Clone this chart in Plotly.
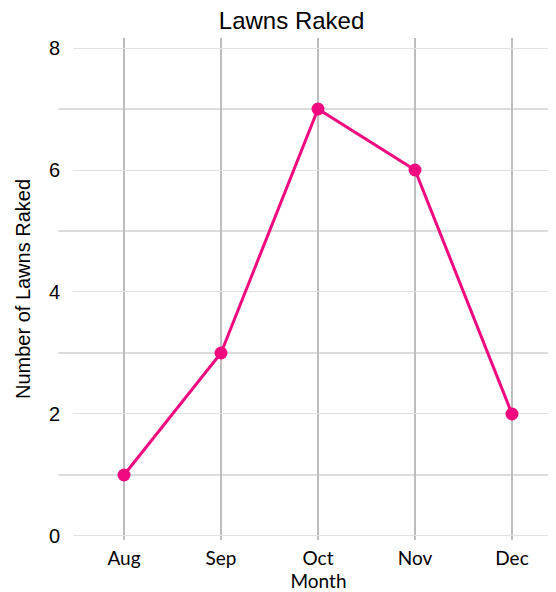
import plotly.graph_objects as go

months = ["Aug", "Sep", "Oct", "Nov", "Dec"]
lawns = [1, 3, 7, 6, 2]
y_ticks = [0, 2, 4, 6, 8]
y_minor_lines = [1, 3, 5, 7]

pink = "#f0097f"

fig = go.Figure()
fig.add_trace(go.Scatter(
    x=months, y=lawns, mode="lines+markers",
    line=dict(color=pink, width=3),
    marker=dict(color=pink, size=13),
    showlegend=False,
))

for v in y_minor_lines:
    fig.add_shape(type="line", xref="paper", yref="y", x0=-0.03, x1=1, y0=v, y1=v,
                  line=dict(color="#dcdcdc", width=2), layer="below")

fig.update_layout(
    width=556, height=592,
    margin=dict(l=65, r=0, t=30, b=60),
    paper_bgcolor="white", plot_bgcolor="white",
    title=dict(text="Lawns Raked", x=0.51, xanchor="center", y=1, yref="container",
               yanchor="top", pad=dict(t=4),
               font=dict(family="Liberation Sans, Arial", size=24, color="black")),
    xaxis=dict(
        range=[-0.526, 4.536], type="category",
        showgrid=True, gridcolor="#bdbdbd", gridwidth=2,
        zeroline=False, showline=False, ticks="",
        ticklabelstandoff=5,
        tickfont=dict(family="Lato", size=19, color="black"),
        title=dict(text="Month", font=dict(family="Lato", size=19, color="black"), standoff=4),
    ),
    yaxis=dict(
        range=[-0.066, 8.164], tickvals=y_ticks,
        showgrid=True, gridcolor="#e2e2e2", gridwidth=1,
        zeroline=False, showline=False, ticks="",
        ticklabelstandoff=12,
        tickfont=dict(family="Liberation Sans, Arial", size=20, color="black"),
        title=dict(text="Number of Lawns Raked", font=dict(family="Liberation Sans, Arial", size=20, color="black"), standoff=12),
    ),
)

fig.write_html("out.html")
